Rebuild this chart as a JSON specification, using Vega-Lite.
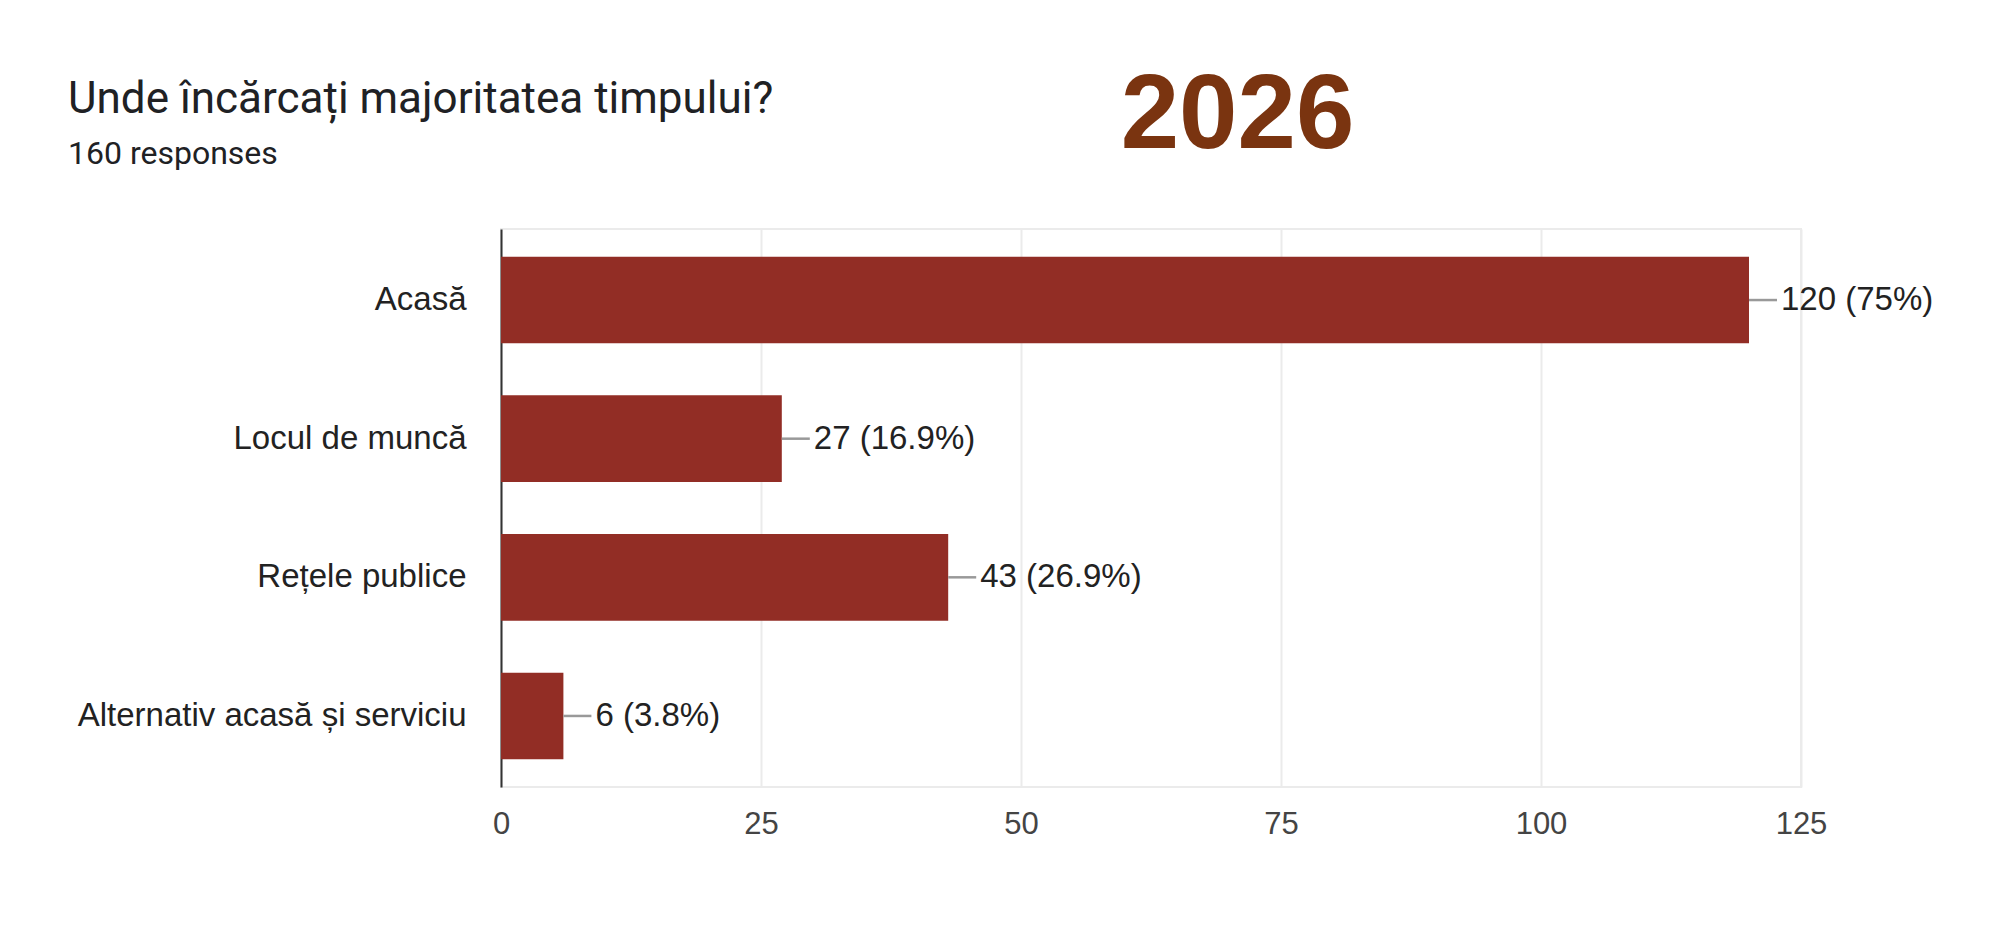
{
  "$schema": "https://vega.github.io/schema/vega-lite/v6.json",
  "width": 1300,
  "height": 558,
  "autosize": {"type": "none"},
  "padding": {"left": 501, "top": 229, "right": 199, "bottom": 164},
  "background": "white",
  "title": {
    "text": "Unde încărcați majoritatea timpului?",
    "subtitle": "160 responses",
    "anchor": "start",
    "frame": "group",
    "dx": -433,
    "offset": -107,
    "font": "Roboto",
    "fontSize": 44,
    "fontWeight": "normal",
    "color": "#202124",
    "subtitleFont": "Roboto",
    "subtitleFontSize": 32,
    "subtitleColor": "#202124",
    "subtitlePadding": 17
  },
  "config": {
    "view": {"stroke": "#ebebeb", "strokeWidth": 2}
  },
  "data": {
    "values": [
      {"loc": "Acasă", "count": 120, "label": "120 (75%)"},
      {"loc": "Locul de muncă", "count": 27, "label": "27 (16.9%)"},
      {"loc": "Rețele publice", "count": 43, "label": "43 (26.9%)"},
      {"loc": "Alternativ acasă și serviciu", "count": 6, "label": "6 (3.8%)"}
    ]
  },
  "encoding": {
    "y": {
      "field": "loc",
      "type": "nominal",
      "sort": null,
      "scale": {"paddingInner": 0.375, "paddingOuter": 0.2},
      "axis": {
        "title": null,
        "domain": true,
        "domainColor": "#333333",
        "domainWidth": 2,
        "ticks": false,
        "grid": false,
        "labelPadding": 35,
        "labelFont": "Liberation Sans",
        "labelFontSize": 33,
        "labelColor": "#222222",
        "labelLimit": 600
      }
    }
  },
  "layer": [
    {
      "mark": {"type": "bar", "color": "#922d25"},
      "encoding": {
        "x": {
          "field": "count",
          "type": "quantitative",
          "scale": {"domain": [0, 125], "nice": false},
          "axis": {
            "orient": "bottom",
            "title": null,
            "values": [0, 25, 50, 75, 100, 125],
            "domain": false,
            "ticks": false,
            "grid": true,
            "gridColor": "#ebebeb",
            "gridWidth": 2,
            "labelFlush": false,
            "labelPadding": 22,
            "labelFont": "Liberation Sans",
            "labelFontSize": 31,
            "labelColor": "#444444"
          }
        }
      }
    },
    {
      "mark": {"type": "rule", "color": "#999999", "strokeWidth": 2.5, "x2Offset": 28},
      "encoding": {
        "x": {"field": "count", "type": "quantitative", "axis": null},
        "x2": {"field": "count"}
      }
    },
    {
      "mark": {"type": "text", "align": "left", "baseline": "middle", "dx": 32, "font": "Liberation Sans", "fontSize": 33, "color": "#222222"},
      "encoding": {
        "x": {
          "field": "count",
          "type": "quantitative",
          "axis": {
            "orient": "top",
            "labels": false,
            "ticks": false,
            "domain": false,
            "grid": false,
            "title": "2026",
            "titleFont": "Liberation Sans",
            "titleFontSize": 105,
            "titleFontWeight": "bold",
            "titleColor": "#7a3410",
            "titleX": 736,
            "titleY": -82,
            "titleBaseline": "alphabetic"
          }
        },
        "text": {"field": "label"}
      }
    }
  ],
  "resolve": {"axis": {"x": "independent"}}
}
